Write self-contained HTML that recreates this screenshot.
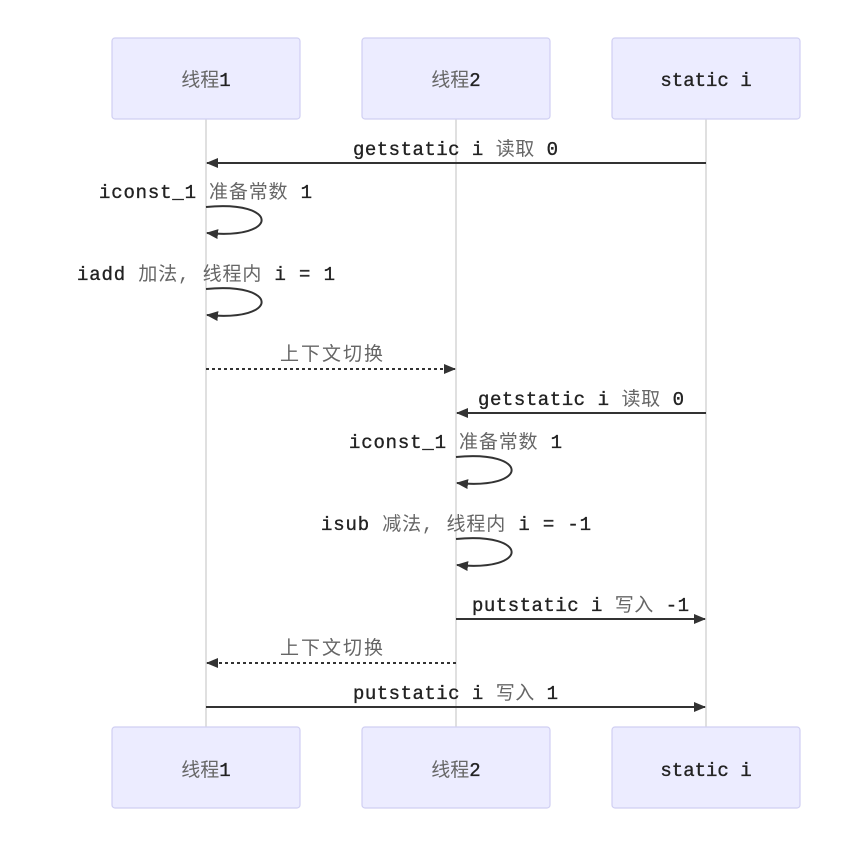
<!DOCTYPE html>
<html><head><meta charset="utf-8"><style>
html,body{margin:0;padding:0;background:#fff;}
svg{display:block}
text{font-family:"Liberation Mono","Noto Sans CJK SC",monospace;font-size:19px;fill:#222;stroke:#222;stroke-width:0.35;}
.c{fill:#666;stroke:none;}
</style></head><body>
<svg width="852" height="856" viewBox="0 0 852 856">
<defs>
<marker id="a" markerWidth="12" markerHeight="10" refX="11" refY="5" orient="auto" markerUnits="userSpaceOnUse">
<path d="M0,0 L12,5 L0,10 z" fill="#333"/></marker>
</defs>
<g stroke="#ccc" stroke-width="1.2">
<line x1="206" y1="119" x2="206" y2="727"/>
<line x1="456" y1="119" x2="456" y2="727"/>
<line x1="706" y1="119" x2="706" y2="727"/>
</g>
<g fill="#ececff" stroke="#d0cff2" stroke-width="1.2">
<rect x="112" y="38" width="188" height="81" rx="3"/>
<rect x="362" y="38" width="188" height="81" rx="3"/>
<rect x="612" y="38" width="188" height="81" rx="3"/>
<rect x="112" y="727" width="188" height="81" rx="3"/>
<rect x="362" y="727" width="188" height="81" rx="3"/>
<rect x="612" y="727" width="188" height="81" rx="3"/>
</g>
<g text-anchor="middle">
<text x="206" y="86"><tspan class="c">线程</tspan>1</text>
<text x="456" y="86"><tspan class="c">线程</tspan>2</text>
<text x="706" y="86">static i</text>
<text x="206" y="776"><tspan class="c">线程</tspan>1</text>
<text x="456" y="776"><tspan class="c">线程</tspan>2</text>
<text x="706" y="776">static i</text>
</g>
<g stroke="#333" stroke-width="2" fill="none">
<line x1="706" y1="163" x2="207" y2="163" marker-end="url(#a)"/>
<path d="M206,207 C280,200 280,240 207,233" marker-end="url(#a)"/>
<path d="M206,289 C280,282 280,322 207,315" marker-end="url(#a)"/>
<line x1="206" y1="369" x2="455" y2="369" stroke-dasharray="3,3" marker-end="url(#a)"/>
<line x1="706" y1="413" x2="457" y2="413" marker-end="url(#a)"/>
<path d="M456,457 C530,450 530,490 457,483" marker-end="url(#a)"/>
<path d="M456,539 C530,532 530,572 457,565" marker-end="url(#a)"/>
<line x1="456" y1="619" x2="705" y2="619" marker-end="url(#a)"/>
<line x1="456" y1="663" x2="207" y2="663" stroke-dasharray="3,3" marker-end="url(#a)"/>
<line x1="206" y1="707" x2="705" y2="707" marker-end="url(#a)"/>
</g>
<g>
<text x="353" y="155" textLength="205" lengthAdjust="spacing">getstatic i <tspan class="c">读取</tspan> 0</text>
<text x="99" y="198" textLength="213" lengthAdjust="spacing">iconst_1 <tspan class="c">准备常数</tspan> 1</text>
<text x="77" y="280" textLength="258" lengthAdjust="spacing">iadd <tspan class="c">加法, 线程内</tspan> i = 1</text>
<text x="280" y="360" textLength="103" lengthAdjust="spacing" class="c">上下文切换</text>
<text x="478" y="405" textLength="206" lengthAdjust="spacing">getstatic i <tspan class="c">读取</tspan> 0</text>
<text x="349" y="448" textLength="213" lengthAdjust="spacing">iconst_1 <tspan class="c">准备常数</tspan> 1</text>
<text x="321" y="530" textLength="270" lengthAdjust="spacing">isub <tspan class="c">减法, 线程内</tspan> i = -1</text>
<text x="472" y="611" textLength="217" lengthAdjust="spacing">putstatic i <tspan class="c">写入</tspan> -1</text>
<text x="280" y="654" textLength="103" lengthAdjust="spacing" class="c">上下文切换</text>
<text x="353" y="699" textLength="205" lengthAdjust="spacing">putstatic i <tspan class="c">写入</tspan> 1</text>
</g>
</svg>
</body></html>
